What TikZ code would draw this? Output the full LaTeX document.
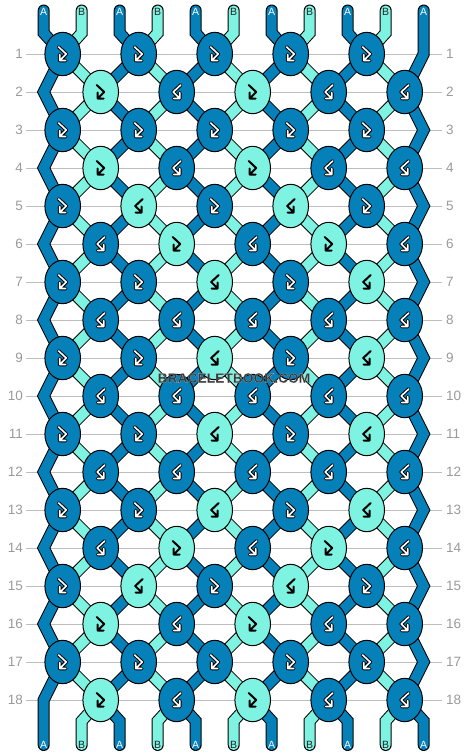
\documentclass[tikz,border=0pt]{standalone}
\usepackage{fontspec}
\setmainfont{Liberation Sans}
\usetikzlibrary{shapes.geometric}
\definecolor{dk}{HTML}{0580B8}
\definecolor{lt}{HTML}{7FF3E1}
\definecolor{rowgray}{HTML}{BEBEBE}
\definecolor{labgray}{HTML}{9A9A9A}
\definecolor{wmgray}{HTML}{383838}
\def\fbp{(-4,-7) -- (3.5,0) -- (-3,6.5) (-3,0.5) -- (-3,6.5) -- (3,6.5)}
\def\bfp{(4,-7) -- (-3.5,0) -- (3,6.5) (3,0.5) -- (3,6.5) -- (-3,6.5)}
\newcommand\halotext[1]{\special{pdf:literal direct 2 Tr 0.05 w 0.85 0.85 0.85 RG}#1\special{pdf:literal direct 0 Tr}}
\begin{document}
\begin{tikzpicture}[x=1pt,y=-1pt,
  declare function={off(\k,\r)=ifthenelse(\k==1, 1-mod(\k+\r,2), ifthenelse(\k==11, -mod(\k+\r,2), 1-2*mod(\k+\r,2)));},
  strO/.style={line width=12pt, draw=black, line cap=round, line join=miter},
  strI/.style={line width=10pt, line cap=round, line join=miter},
  knotD/.style={ellipse, draw=black, line width=1pt, fill=dk, minimum width=35.6pt, minimum height=43.4pt, inner sep=0pt},
  knotL/.style={knotD, fill=lt},
  rowline/.style={draw=rowgray, line width=1pt},
  rowlab/.style={text=labgray, font=\fontsize{13.5}{14}\selectfont, inner sep=0pt},
  endlab/.style={font=\fontsize{10.5}{11}\selectfont, inner sep=0pt},
  wm/.style={font=\bfseries\fontsize{13.8}{14}\selectfont, inner sep=0pt},
  arrO/.style={line width=3.6pt, draw=black, line cap=round, line join=round},
  arrI/.style={line width=1.6pt, draw=white, line cap=round, line join=round},
  arrB/.style={line width=2pt, draw=black, line cap=round, line join=round},
  pics/arrD1/.style={code={\draw[arrO] \fbp; \draw[arrI] \fbp;}},
  pics/arrL0/.style={code={\draw[arrB] \fbp;}},
  pics/arrL1/.style={code={\draw[arrB] \bfp;}},
  pics/arrD0/.style={code={\draw[arrO] \bfp; \draw[arrI] \bfp;}},
]
\useasboundingbox[fill=white] (0,0) rectangle (468,756);
% row lines and labels
\foreach \r in {1,...,18}{
  \pgfmathsetmacro\yy{54+38*(\r-1)}
  \draw[rowline] (26,\yy) -- (442,\yy);
  \node[rowlab, anchor=east] (ll\r) at (23,\yy) {\r};
  \node[rowlab, anchor=west] (rl\r) at (446,\yy) {\r};
}
% strings: outlines
\foreach \k in {1,...,11}{
  \pgfmathsetmacro\cx{43.7+38*(\k-1)}
  \draw[strO] (\cx,10.5) -- (\cx,33) \foreach \r in {1,...,18}{ -- ({\cx+19*off(\k,\r)},{54+38*(\r-1)}) } -- (\cx,721) -- (\cx,745);
}
% strings: colour
\foreach \k in {1,...,11}{
  \pgfmathsetmacro\cx{43.7+38*(\k-1)}
  \ifodd\k \def\sc{dk}\else\def\sc{lt}\fi
  \draw[strI, draw=\sc] (\cx,10.5) -- (\cx,33) \foreach \r in {1,...,18}{ -- ({\cx+19*off(\k,\r)},{54+38*(\r-1)}) } -- (\cx,721) -- (\cx,745);
}
% knots
\foreach \r/\ka/\kb/\kc/\kd/\ke in {
  1/D/D/D/D/D, 2/L/D/L/D/D, 3/D/D/D/D/D, 4/L/D/L/D/D, 5/D/L/D/L/D, 6/D/L/D/L/D,
  7/D/D/L/D/L, 8/D/D/D/D/D, 9/D/D/L/D/L, 10/D/D/D/D/D, 11/D/D/L/D/L, 12/D/D/D/D/D,
  13/D/D/L/D/L, 14/D/L/D/L/D, 15/D/L/D/L/D, 16/L/D/L/D/D, 17/D/D/D/D/D, 18/L/D/L/D/D}{
  \pgfmathtruncatemacro\rp{mod(\r,2)}
  \pgfmathsetmacro\yy{54+38*(\r-1)}
  \pgfmathsetmacro\xo{ifthenelse(\rp==1,62.7,100.7)}
  \foreach \i/\t in {0/\ka,1/\kb,2/\kc,3/\kd,4/\ke}{
    \node[knot\t] (k\r-\i) at ({\xo+76*\i},\yy) {};
    \pic at (k\r-\i) {arr\t\rp};
  }
}
% end labels
\foreach \k in {1,...,11}{
  \pgfmathsetmacro\cx{43.7+38*(\k-1)}
  \ifodd\k \def\lc{white}\def\lt{A}\else\def\lc{black!85}\def\lt{B}\fi
  \node[endlab, text=\lc] (top\k) at (\cx,12) {\lt};
  \node[endlab, text=\lc] (bot\k) at (\cx,744.5) {\lt};
}
% watermark
\node[wm, text=wmgray] (wmark) at (234,378) {\halotext{BRACELETBOOK.COM}};
\end{tikzpicture}
\end{document}
